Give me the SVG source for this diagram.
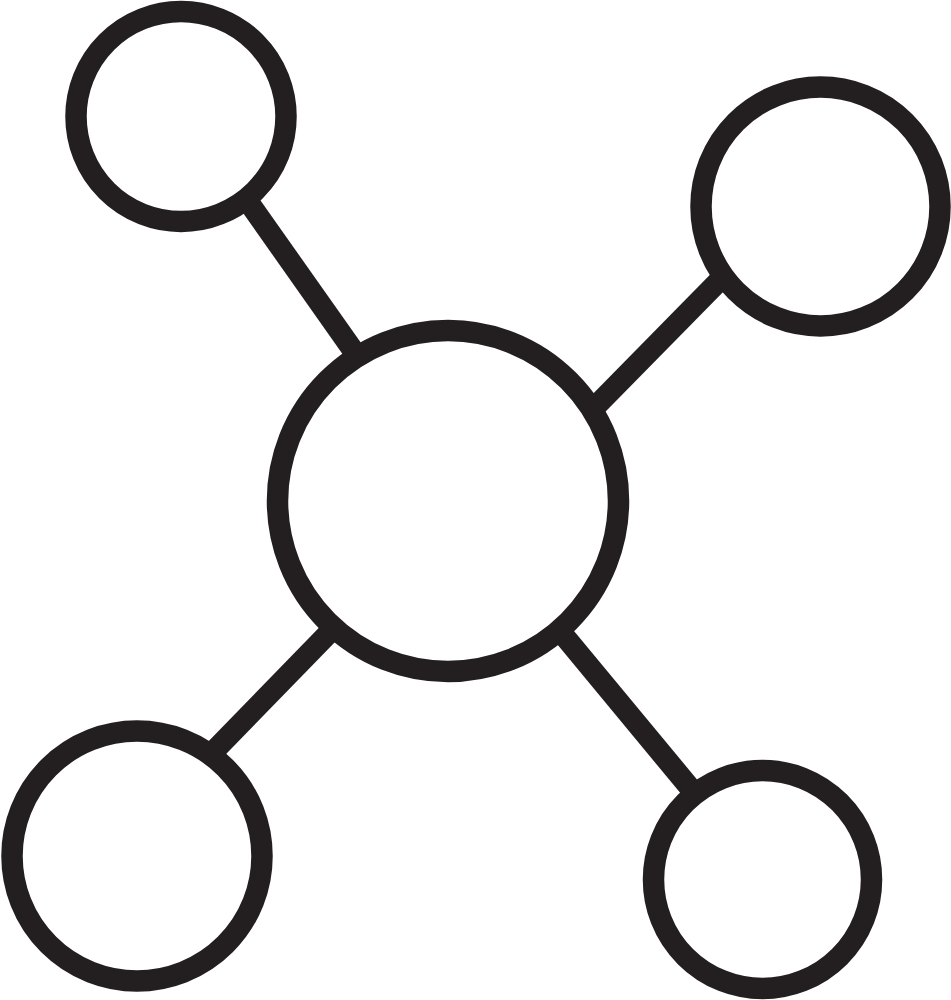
<svg xmlns="http://www.w3.org/2000/svg" width="951" height="1000" viewBox="0 0 951 1000">
  <style>
    .edge { stroke: #231f20; stroke-width: 21.5; fill: none; stroke-linecap: butt; }
    .node { stroke: #231f20; stroke-width: 21.5; fill: #ffffff; }
  </style>
  <rect x="0" y="0" width="951" height="1000" fill="#ffffff"/>
  <g id="connectors">
    <line class="edge" x1="234.7" y1="182.5" x2="368" y2="371.5"/>
    <line class="edge" x1="582.5" y1="419.8" x2="741" y2="258.5"/>
    <line class="edge" x1="344.4" y1="617" x2="197" y2="768.5"/>
    <line class="edge" x1="547.7" y1="616" x2="705" y2="806"/>
  </g>
  <g id="node-center">
    <circle class="node" cx="448" cy="501" r="170.5"/>
  </g>
  <g id="node-top-left">
    <circle class="node" cx="181" cy="116.5" r="105"/>
  </g>
  <g id="node-top-right">
    <circle class="node" cx="820.5" cy="206.5" r="119.5"/>
  </g>
  <g id="node-bottom-left">
    <circle class="node" cx="137" cy="856" r="125"/>
  </g>
  <g id="node-bottom-right">
    <circle class="node" cx="762.5" cy="879.5" r="109"/>
  </g>
</svg>
